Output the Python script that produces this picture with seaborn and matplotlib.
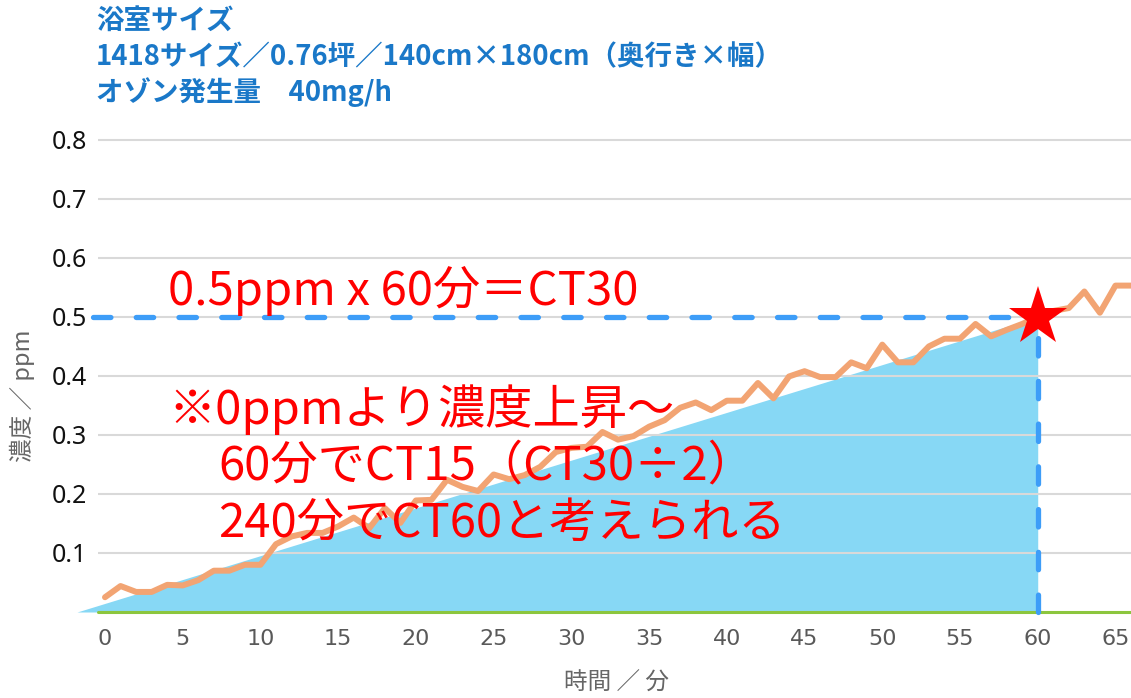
import matplotlib
matplotlib.use("Agg")
import matplotlib.pyplot as plt
from matplotlib import font_manager
import seaborn as sns
import pandas as pd

# Measured ozone concentration (ppm) per minute
minutes = list(range(0, 67))
ozone_ppm = [
    0.025, 0.044, 0.034, 0.034, 0.046, 0.045, 0.054, 0.070, 0.070, 0.080,
    0.080, 0.115, 0.128, 0.134, 0.134, 0.145, 0.160, 0.142, 0.176, 0.151,
    0.189, 0.190, 0.224, 0.212, 0.205, 0.233, 0.225, 0.232, 0.246, 0.271,
    0.278, 0.280, 0.305, 0.292, 0.298, 0.314, 0.325, 0.346, 0.355, 0.342,
    0.358, 0.358, 0.388, 0.362, 0.399, 0.408, 0.398, 0.398, 0.423, 0.413,
    0.453, 0.423, 0.423, 0.450, 0.463, 0.463, 0.488, 0.467, 0.478, 0.488,
    0.500, 0.510, 0.515, 0.543, 0.507, 0.553, 0.553,
]

# Idealised linear rise shown as the shaded area
ramp_minutes = [-1.8, 60]
ramp_ppm = [0.0, 0.5]

# Target point: 0.5 ppm reached at 60 minutes
target_minute = 60
target_ppm = 0.5
guide_start_minute = -0.8

x_ticks = list(range(0, 70, 5))
x_tick_labels = [str(v) for v in x_ticks]
y_ticks = [0.1, 0.2, 0.3, 0.4, 0.5, 0.6, 0.7, 0.8]
y_tick_labels = ["0.1", "0.2", "0.3", "0.4", "0.5", "0.6", "0.7", "0.8"]

header_lines = [
    "浴室サイズ",
    "1418サイズ／0.76坪／140cm×180cm（奥行き×幅）",
    "オゾン発生量　40mg/h",
]
ct_note = "0.5ppm x 60分＝CT30"
rise_notes = [
    "※0ppmより濃度上昇～",
    "60分でCT15（CT30÷2）",
    "240分でCT60と考えられる",
]
x_label = "時間 ／ 分"
y_label = "濃度 ／ ppm"

sns.set_theme(style="white")
plt.rcParams["font.family"] = ["Noto Sans CJK JP", "DejaVu Sans"]

installed = {f.name for f in font_manager.fontManager.ttflist}
narrow_font = "Liberation Sans Narrow" if "Liberation Sans Narrow" in installed else "DejaVu Sans"

W, H = 1131, 698
fig = plt.figure(figsize=(W / 100, H / 100), dpi=100)
ax = fig.add_axes([98 / W, 86 / H, 1033 / W, 484 / H])
ax.set_xlim(-0.45, 66.0)
ax.set_ylim(0, 0.82)

BLUE_FILL = "#87d8f5"
ORANGE = "#f2a473"
DASH_BLUE = "#3d9df8"
GREEN = "#8cc63e"
RED = "#ff0000"
TITLE_BLUE = "#1a78c8"

# Shaded linear ramp
ax.fill_between(ramp_minutes, ramp_ppm, 0, color=BLUE_FILL, lw=0,
                zorder=1, clip_on=False)

# Measured concentration line
df = pd.DataFrame({"minute": minutes, "ppm": ozone_ppm})
sns.lineplot(data=df, x="minute", y="ppm", ax=ax, color=ORANGE, lw=4.3,
             zorder=3, solid_joinstyle="round", solid_capstyle="round")

# Baseline
ax.axhline(0, color=GREEN, lw=2.2, zorder=2.6, clip_on=False)

# Dashed guides to the target point
ax.plot([guide_start_minute, target_minute], [target_ppm, target_ppm],
        color=DASH_BLUE, lw=3.8, dashes=(3.3, 4.8), dash_capstyle="round",
        zorder=4, clip_on=False)
ax.plot([target_minute, target_minute], [0, target_ppm],
        color=DASH_BLUE, lw=3.8, dashes=(3.3, 4.8), dash_capstyle="round",
        zorder=4, clip_on=False)

# Target marker
ax.plot([target_minute], [target_ppm], marker="*", ms=44, color=RED,
        mec=RED, mew=0, zorder=6, clip_on=False)

# Grid and axes styling
ax.yaxis.grid(True, color="#d9d9d9", lw=1.5)
ax.xaxis.grid(False)
ax.set_axisbelow("line")
for side in ["top", "right", "left", "bottom"]:
    ax.spines[side].set_visible(False)

ax.set_xticks(x_ticks)
ax.set_xticklabels(x_tick_labels, fontsize=16, color="#595959",
                   family=[narrow_font, "DejaVu Sans"])
ax.set_yticks(y_ticks)
ax.set_yticklabels(y_tick_labels, fontsize=18, color="#111111",
                   family=["Noto Sans", "DejaVu Sans"])
ax.tick_params(axis="x", length=0, pad=12)
ax.tick_params(axis="y", length=0, pad=8)
ax.set_xlabel("")
ax.set_ylabel("")

fig.text(617 / W, 1 - 683 / H, x_label, ha="center", va="center",
         fontsize=17, color="#666666")
fig.text(22 / W, 1 - 396 / H, y_label, ha="center", va="center",
         rotation=90, fontsize=17, color="#666666")

# Header block
for y_px, line in zip([21, 57, 92], header_lines):
    fig.text(96 / W, 1 - y_px / H, line, ha="left", va="center",
             fontsize=19.8, fontweight="bold", color=TITLE_BLUE)

# Annotations
ax.text(4.05, 0.520, ct_note, ha="left", va="baseline", fontsize=34,
        color=RED, zorder=7)
for (x0, y0), line in zip([(4.05, 0.319), (7.3, 0.224), (7.3, 0.127)],
                          rise_notes):
    ax.text(x0, y0, line, ha="left", va="baseline", fontsize=34,
            color=RED, zorder=7)

fig.savefig("out.png", dpi=100)
